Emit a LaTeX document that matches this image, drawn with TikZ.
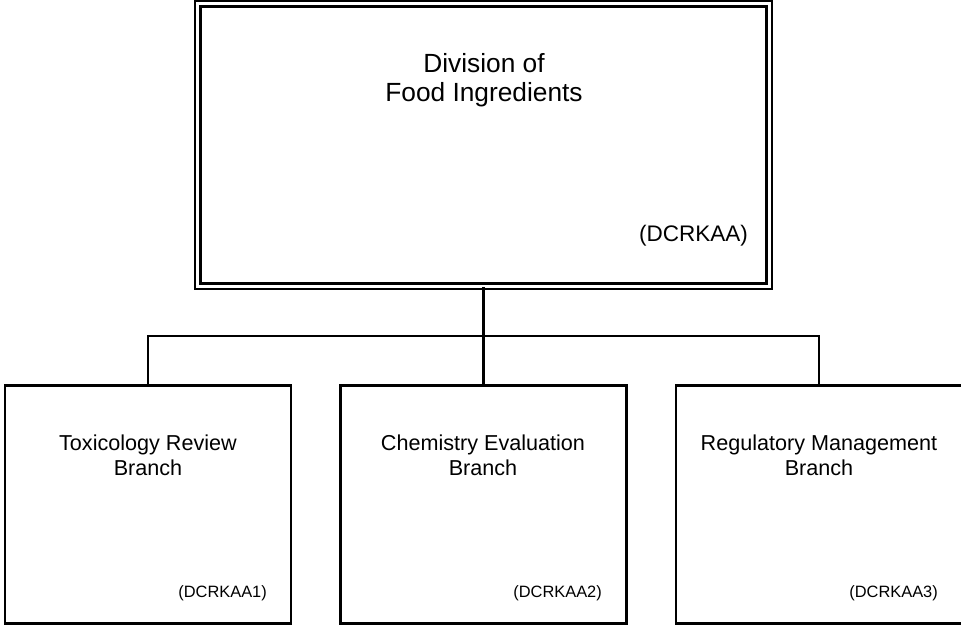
\documentclass[tikz,border=0pt]{standalone}
\usepackage{fontspec}
\setmainfont{Liberation Sans}
\begin{document}
\begin{tikzpicture}[x=1pt,y=-1pt,
  mainbox/.style={draw, line width=2.6pt, double=white, double distance=3pt, inner sep=0pt,
    minimum width=571.5pt, minimum height=282.5pt},
  branchbox/.style={draw, line width=2.8pt, inner sep=0pt, minimum width=286pt, minimum height=238.5pt},
  conn/.style={line width=2.8pt},
  maintitle/.style={align=center, font=\fontsize{26.3}{29.5}\selectfont, inner sep=0pt},
  brtitle/.style={align=center, font=\fontsize{21.6}{25}\selectfont, inner sep=0pt},
  code/.style={anchor=base east, font=\fontsize{16.4}{19}\selectfont, inner sep=0pt},
  bigcode/.style={anchor=base east, font=\fontsize{22.5}{26}\selectfont, inner sep=0pt}]
\useasboundingbox (0,0) rectangle (961,626);
\node[mainbox] (top) at (483.5,144.75) {};
\node[branchbox] (b1) at (148,504.5) {};
\node[branchbox] (b2) at (483.5,504.5) {};
\node[branchbox] (b3) at (819,504.5) {};
\coordinate (hub) at (483.5,336);
\draw[conn] (top.south) -- (b2.north);
\draw[conn] (b1.north) -- (b1.north |- hub) -- (b3.north |- hub) -- (b3.north);
\node[maintitle] (t0) at (484,80) {Division of\\Food Ingredients};
\node[bigcode] (c0) at (748,241) {(DCRKAA)};
\node[brtitle] (t1) at (148,455) {Toxicology Review\\Branch};
\node[brtitle] (t2) at (483,455) {Chemistry Evaluation\\Branch};
\node[brtitle] (t3) at (819,455) {Regulatory Management\\Branch};
\node[code] (c1) at (267,597) {(DCRKAA1)};
\node[code] (c2) at (602,597) {(DCRKAA2)};
\node[code] (c3) at (938,597) {(DCRKAA3)};
\end{tikzpicture}
\end{document}
